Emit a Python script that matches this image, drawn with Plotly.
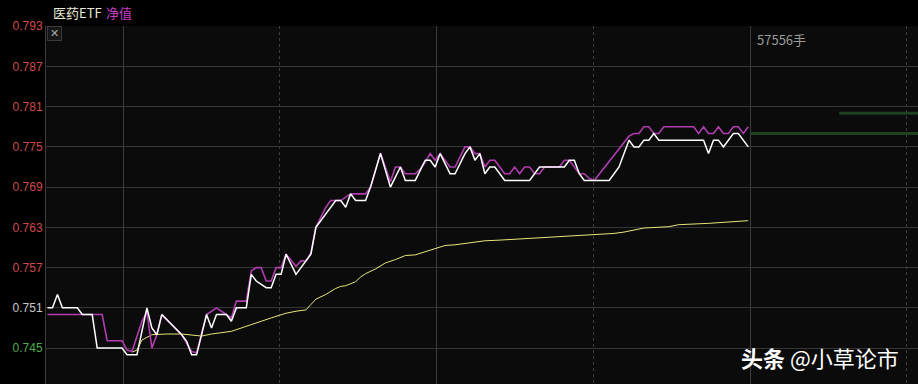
import plotly.graph_objects as go

# ---------------- data ----------------
# minute index (0 = first minute) and values
price_t = [0, 1, 2, 3, 6, 7, 9, 10, 15, 16, 18, 20, 21, 22, 23, 27, 28, 29, 30, 31, 32, 33, 34, 36, 37, 38, 40,
           41, 42, 44, 45, 46, 47, 48, 50, 51, 52, 53, 54, 55, 56, 57, 58, 59, 60, 61, 62, 64, 65, 67, 69, 71, 72,
           74, 76, 77, 78, 79, 81, 82, 84, 85, 86, 87, 88, 89, 90, 91, 92, 97, 98, 99, 104, 105, 106, 107, 108,
           113, 114, 115, 116, 117, 118, 119, 120, 121, 122, 123, 132, 133, 134, 135, 136, 137, 138, 139, 141]
price_v = [0.751, 0.751, 0.753, 0.751, 0.751, 0.750, 0.750, 0.745, 0.745, 0.744, 0.744, 0.751, 0.748, 0.747,
           0.750, 0.747, 0.746, 0.744, 0.744, 0.747, 0.750, 0.748, 0.750, 0.750, 0.749, 0.751, 0.751,
           0.756, 0.755, 0.754, 0.754, 0.756, 0.756, 0.759, 0.756, 0.757, 0.758, 0.759, 0.763, 0.764, 0.765,
           0.766, 0.767, 0.767, 0.766, 0.768, 0.767, 0.767, 0.769, 0.774, 0.769, 0.772, 0.770,
           0.770, 0.773, 0.773, 0.772, 0.774, 0.771, 0.771, 0.774, 0.775, 0.773, 0.774, 0.771, 0.772, 0.772,
           0.771, 0.770, 0.770, 0.771, 0.772, 0.772, 0.773, 0.773, 0.771, 0.770,
           0.770, 0.771, 0.772, 0.774, 0.776, 0.775, 0.775, 0.776, 0.776, 0.777, 0.776, 0.776, 0.774, 0.776,
           0.776, 0.775, 0.776, 0.777, 0.777, 0.775]

iopv_t = [0, 11, 12, 15, 16, 17, 19, 20, 21, 22, 23, 27, 28, 29, 30, 31, 32, 33, 34, 35, 36, 37, 38, 40, 41, 42,
          43, 44, 45, 46, 47, 48, 50, 51, 52, 53, 54, 55, 56, 57, 59, 60, 61, 64, 65, 67, 69, 70, 71, 72, 74,
          75, 76, 77, 78, 79, 81, 82, 84, 85, 86, 87, 88, 89, 90, 91, 92, 93, 94, 95, 96, 97, 98, 99, 100,
          103, 104, 105, 106, 107, 108, 109, 110, 117, 118, 119, 120, 121, 122, 123, 124, 130, 131, 132,
          133, 134, 135, 136, 137, 138, 139, 140, 141]
iopv_v = [0.7500, 0.7500, 0.7461, 0.7461, 0.7447, 0.7445, 0.7490, 0.7504, 0.7450, 0.7470, 0.7500, 0.7470,
          0.7457, 0.7445, 0.7443, 0.7470, 0.7500, 0.7505, 0.7510, 0.7505, 0.7500, 0.7495, 0.7520, 0.7520,
          0.7565, 0.7570, 0.7570, 0.7550, 0.7550, 0.7570, 0.7570, 0.7590, 0.7572, 0.7580, 0.7580, 0.7592,
          0.7630, 0.7645, 0.7660, 0.7670, 0.7670, 0.7675, 0.7680, 0.7680, 0.7690, 0.7741, 0.7698, 0.7720,
          0.7720, 0.7710, 0.7710, 0.7717, 0.7727, 0.7740, 0.7730, 0.7740, 0.7720, 0.7720, 0.7750, 0.7750,
          0.7740, 0.7740, 0.7720, 0.7730, 0.7730, 0.7720, 0.7710, 0.7710, 0.7720, 0.7710, 0.7720, 0.7720,
          0.7710, 0.7710, 0.7720, 0.7720, 0.7730, 0.7730, 0.7720, 0.7710, 0.7710, 0.7703, 0.7700, 0.7766,
          0.7770, 0.7770, 0.7780, 0.7780, 0.7770, 0.7770, 0.7780, 0.7780, 0.7770, 0.7780, 0.7770, 0.7770,
          0.7780, 0.7770, 0.7770, 0.7780, 0.7780, 0.7770, 0.7780]

avg_t = [17, 18, 19, 21, 24, 27, 31, 33, 37, 40, 43, 45, 48, 50, 52, 53, 54, 56, 58, 59, 60, 61, 62, 63, 64,
         66, 68, 70, 72, 74, 76, 78, 80, 82, 86, 88, 91, 96, 101, 106, 111, 114, 116, 118, 120, 125, 127,
         133, 137, 141]
avg_v = [0.7444, 0.7447, 0.7462, 0.7470, 0.7471, 0.7471, 0.7468, 0.7471, 0.7475, 0.7482, 0.7490, 0.7495,
         0.7502, 0.7505, 0.7507, 0.7515, 0.7523, 0.7530, 0.7539, 0.7542, 0.7543, 0.7546, 0.7549, 0.7556,
         0.7561, 0.7568, 0.7577, 0.7582, 0.7588, 0.7589, 0.7594, 0.7599, 0.7603, 0.7604, 0.7608, 0.7610,
         0.7611, 0.7613, 0.7615, 0.7617, 0.7619, 0.7621, 0.7623, 0.7626, 0.7629, 0.7631, 0.7634, 0.7636,
         0.7638, 0.7640]

order_levels = [0.777, 0.780]
order_start = [141.5, 159.3]

y_ticks = [0.793, 0.787, 0.781, 0.775, 0.769, 0.763, 0.757, 0.751, 0.745]
prev_close = 0.751
volume_label = "57556手"
name_price = "医药ETF"
name_iopv = "净值"
watermark = "<b>头条</b> @小草论市"

# ---------------- styling ----------------
W, H = 918, 384
ML, MT = 46, 26
PW, PH = W - ML, H - MT
X0, X1 = -0.302, 175.15
Y0, Y1 = 0.73965, 0.79302


def px_x(p):
    return (p - ML) / PW


def px_y(p):
    return (H - p) / PH


def tick_color(v):
    if abs(v - prev_close) < 1e-9:
        return "#c8c8c8"
    return "#d04a4a" if v > prev_close else "#4caf50"


ticktext = ['<span style="color:%s">%.3f</span>' % (tick_color(v), v) for v in y_ticks]

fig = go.Figure()
for lvl, st in zip(order_levels, order_start):
    fig.add_trace(go.Scatter(x=[st, X1 + 1], y=[lvl, lvl], mode="lines",
                             line=dict(color="#1c4222", width=3), hoverinfo="skip"))
fig.add_trace(go.Scatter(x=avg_t, y=avg_v, mode="lines",
                         line=dict(color="#e6e67a", width=1), hoverinfo="skip"))
fig.add_trace(go.Scatter(x=iopv_t, y=iopv_v, mode="lines",
                         line=dict(color="#b03cb0", width=1.6), hoverinfo="skip"))
fig.add_trace(go.Scatter(x=price_t, y=price_v, mode="lines",
                         line=dict(color="#ffffff", width=1.5), hoverinfo="skip"))

fig.update_layout(
    width=W, height=H,
    margin=dict(l=ML, r=0, t=MT, b=0, pad=0),
    paper_bgcolor="#000000",
    plot_bgcolor="#0b0b0b",
    showlegend=False,
    font=dict(family="Liberation Sans, Arial, sans-serif", size=12, color="#c8c8c8"),
    xaxis=dict(range=[X0, X1], showticklabels=False, zeroline=False, showline=False,
               tickmode="linear", tick0=15.19, dtick=63.08, ticks="",
               showgrid=True, gridcolor="#3c3c3c", gridwidth=1,
               minor=dict(tick0=15.19, dtick=31.54, showgrid=True, gridcolor="#3c3c3c",
                          griddash="dot", ticks="")),
    yaxis=dict(range=[Y0, Y1], tickmode="array", tickvals=y_ticks, ticktext=ticktext,
               showgrid=True, gridcolor="#363636", gridwidth=1, zeroline=False,
               showline=True, linecolor="#3c3c3c", linewidth=1, ticks="",
               tickfont=dict(size=12, family="Liberation Sans, Arial, sans-serif")),
)

fig.add_annotation(xref="paper", yref="paper", x=px_x(51), y=px_y(12), xanchor="left", yanchor="middle",
                   text=name_price, showarrow=False,
                   font=dict(size=13, color="#ececd8", family="Noto Sans CJK SC, sans-serif"))
fig.add_annotation(xref="paper", yref="paper", x=px_x(104), y=px_y(12), xanchor="left", yanchor="middle",
                   text=name_iopv, showarrow=False,
                   font=dict(size=13, color="#c83cc8", family="Noto Sans CJK SC, sans-serif"))
fig.add_annotation(xref="paper", yref="paper", x=px_x(54), y=px_y(34), xanchor="center", yanchor="middle",
                   text="✕", showarrow=False, bordercolor="#3a3a3a", borderwidth=1, borderpad=1,
                   bgcolor="#161616", width=11, height=11,
                   font=dict(size=11, color="#aaaaaa", family="DejaVu Sans"))
fig.add_annotation(xref="paper", yref="paper", x=px_x(755), y=px_y(39), xanchor="left", yanchor="middle",
                   text=volume_label, showarrow=False,
                   font=dict(size=13, color="#9a9a9a", family="Noto Sans CJK SC, sans-serif"))
fig.add_annotation(xref="paper", yref="paper", x=px_x(820), y=px_y(357), xanchor="center", yanchor="middle",
                   text=watermark, showarrow=False,
                   font=dict(size=22, color="#ffffff", family="Noto Sans CJK SC, sans-serif"))

fig.write_html("out.html")
